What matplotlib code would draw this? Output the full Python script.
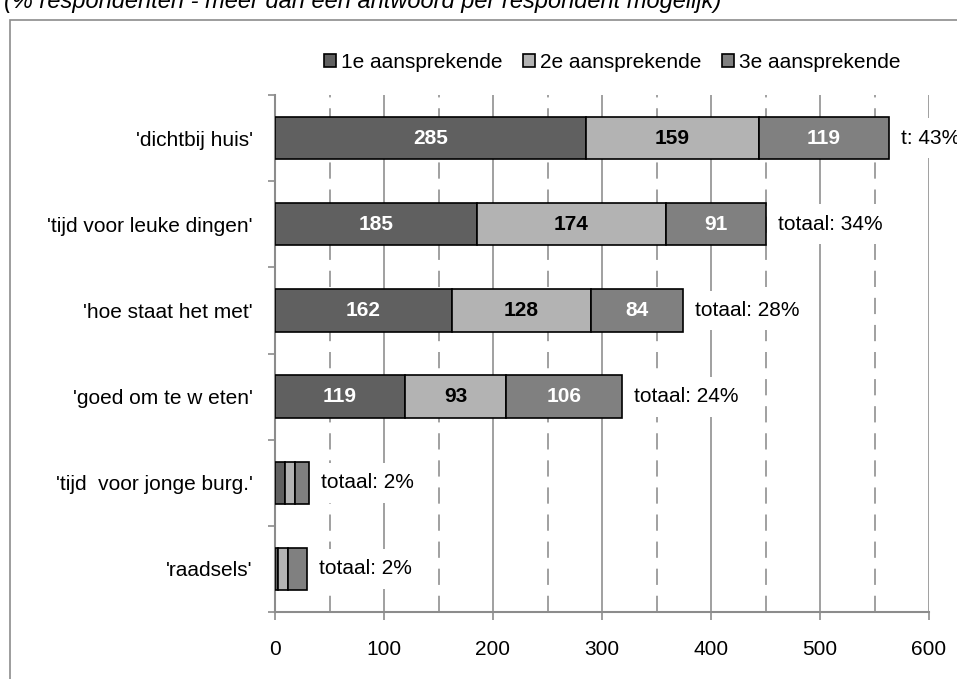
import matplotlib
matplotlib.use('Agg')
import numpy as np
import matplotlib.pyplot as plt
from matplotlib.patches import Rectangle

plt.rcParams['font.family'] = ['Liberation Sans', 'DejaVu Sans']

categories = ["'dichtbij huis'", "'tijd voor leuke dingen'", "'hoe staat het met'",
              "'goed om te w eten'", "'tijd  voor jonge burg.'", "'raadsels'"]
first = [285, 185, 162, 119, 9, 3]
second = [159, 174, 128, 93, 9, 9]
third = [119, 91, 84, 106, 13, 17]
series_names = ['1e aansprekende', '2e aansprekende', '3e aansprekende']
total_labels = ['t: 43%', 'totaal: 34%', 'totaal: 28%', 'totaal: 24%', 'totaal: 2%', 'totaal: 2%']
show_values = [True, True, True, True, False, False]

colors = ['#606060', '#b3b3b3', '#808080']
text_colors = ['white', 'black', 'white']
FS = 15

fig = plt.figure(figsize=(9.57, 6.79), dpi=100)
# outer border of the chart area (cut off at right/bottom)
fig.patches.append(Rectangle((10/957, -0.05), 1.0, 1 - 20/679 + 0.05, transform=fig.transFigure,
                             fill=False, edgecolor='#8c8c8c', linewidth=1.2))
fig.text(4/957, 1 - 8/679, '(% respondenten - meer dan een antwoord per respondent mogelijk)',
         fontsize=17, style='italic', va='baseline', ha='left')

ax = fig.add_axes([275/957, 67/679, 654/957, 517/679])
y = np.arange(len(categories))
left = np.zeros(len(categories))
for vals, col, tc, name in zip([first, second, third], colors, text_colors, series_names):
    vals = np.array(vals)
    ax.barh(y, vals, left=left, height=0.49, color=col, edgecolor='black', linewidth=1.2,
            label=name, zorder=3)
    for i in range(len(y)):
        if show_values[i]:
            ax.text(left[i] + vals[i] / 2, y[i], str(vals[i]), ha='center', va='center',
                    color=tc, fontsize=FS, fontweight='bold', zorder=4)
    left = left + vals

for i in range(len(y)):
    ax.annotate(total_labels[i], (left[i], y[i]), xytext=(9, 0), textcoords='offset points',
                ha='left', va='center', fontsize=FS, zorder=5,
                bbox=dict(boxstyle='square,pad=0.5', facecolor='white', edgecolor='none'))

ax.set_xlim(0, 600)
ax.set_ylim(len(categories) - 0.5, -0.5)
ax.set_xticks(np.arange(0, 601, 100))
ax.set_xticks(np.arange(50, 600, 100), minor=True)
ax.set_yticks(y)
ax.set_yticklabels(categories, fontsize=FS)
ax.set_yticks(np.arange(-0.5, len(categories), 1), minor=True)
ax.tick_params(axis='y', which='major', length=0, pad=16)
ax.tick_params(axis='y', which='minor', length=5, color='#8c8c8c', width=1.2)
ax.tick_params(axis='x', which='major', length=6, color='#8c8c8c', width=1.2, pad=14, labelsize=FS)
ax.tick_params(axis='x', which='minor', length=0)

for v in np.arange(100, 601, 100):
    ax.axvline(v, color='#999999', linewidth=1.3, zorder=1)
for v in np.arange(50, 600, 100):
    ax.axvline(v, color='#999999', linewidth=1.3, linestyle=(0, (9, 6)), zorder=1)

for s in ['top', 'right']:
    ax.spines[s].set_visible(False)
for s in ['left', 'bottom']:
    ax.spines[s].set_color('#8c8c8c')
    ax.spines[s].set_linewidth(1.5)

fig.legend(loc='center', bbox_to_anchor=(612/957, 1 - 62/679), ncol=3, frameon=False, fontsize=FS,
           handlelength=0.6, handleheight=0.6, handletextpad=0.2, columnspacing=1.0)

plt.savefig('out.png', dpi=100)
